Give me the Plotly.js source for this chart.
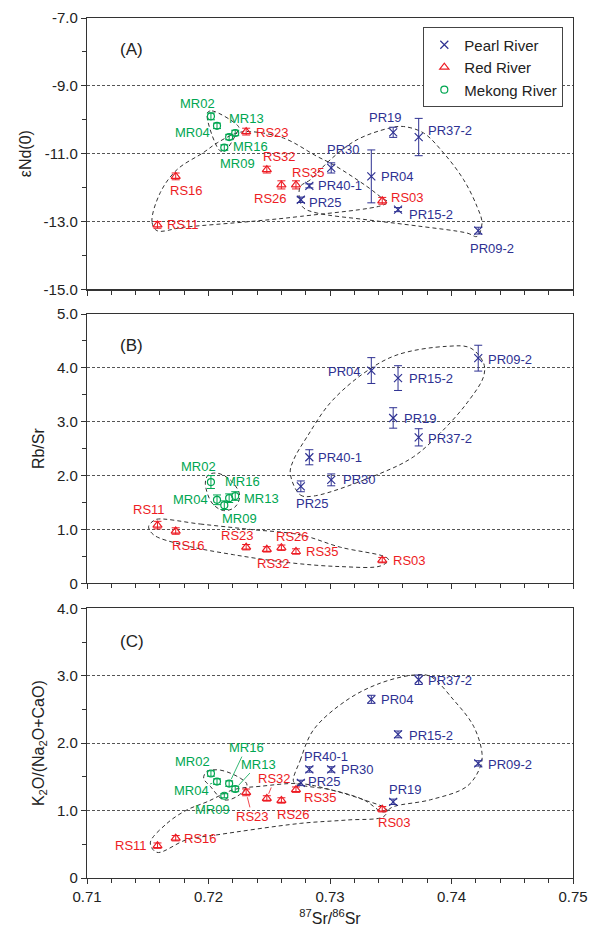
<!DOCTYPE html>
<html><head><meta charset="utf-8">
<script src="https://cdn.plot.ly/plotly-3.0.1.min.js"></script>
<style>html,body{margin:0;padding:0;background:#fff}#chart{width:592px;height:932px}</style>
</head><body><div id="chart"></div>
<script>
// ---------------- DATA ----------------
// Pearl River
const prNames   = ['PR25','PR40-1','PR30','PR04','PR19','PR37-2','PR15-2','PR09-2'];
const prSr      = [0.7276,0.7283,0.7301,0.7334,0.7352,0.7373,0.7356,0.7422];
const prNd      = [-12.36,-11.95,-11.42,-11.67,-10.37,-10.51,-12.65,-13.27];
const prNdErr   = [0.08,0.06,0.15,0.78,0.15,0.55,0.06,0.10];
const prRbSr    = [1.80,2.34,1.92,3.95,3.07,2.71,3.81,4.18];
const prRbSrErr = [0.10,0.14,0.11,0.24,0.19,0.16,0.23,0.24];
const prK       = [1.41,1.61,1.61,2.65,1.13,2.94,2.13,1.70];
const prKErr    = [0.04,0.04,0.04,0.06,0.04,0.07,0.05,0.04];
// Red River
const rsNames   = ['RS11','RS16','RS23','RS32','RS26','RS35','RS03'];
const rsSr      = [0.7158,0.7173,0.7231,0.7248,0.7260,0.7272,0.7343];
const rsNd      = [-13.10,-11.67,-10.35,-11.47,-11.92,-11.92,-12.39];
const rsNdErr   = [0.10,0.10,0.10,0.10,0.12,0.12,0.10];
const rsRbSr    = [1.08,0.97,0.67,0.63,0.66,0.59,0.43];
const rsRbSrErr = [0.07,0.06,0.05,0.05,0.05,0.05,0.05];
const rsK       = [0.48,0.59,1.27,1.18,1.15,1.31,1.02];
const rsKErr    = [0.04,0.04,0.05,0.04,0.04,0.04,0.04];
// Mekong River
const mrNames   = ['MR02','MR04','MR09','MR16','MR13'];
const mrSr      = [0.7202,0.7207,0.7213,0.7217,0.7222];
const mrNd      = [-9.90,-10.18,-10.82,-10.51,-10.39];
const mrNdErr   = [0.10,0.08,0.08,0.08,0.08];
const mrRbSr    = [1.88,1.55,1.45,1.58,1.62];
const mrRbSrErr = [0.12,0.09,0.08,0.08,0.08];
const mrK       = [1.55,1.43,1.22,1.40,1.32];
const mrKErr    = [0.04,0.04,0.03,0.04,0.04];

// Group envelopes (hand-drawn outlines), vertices in data units
const envA_mr_x = [0.7199,0.7203,0.7225,0.7224,0.7213,0.7209,0.7199];
const envA_mr_y = [-9.80,-9.74,-10.22,-10.33,-10.93,-10.90,-9.80];
const envA_rs_x = [0.71576,0.71535,0.71603,0.71741,0.71957,0.72072,0.72235,0.72344,0.72618,0.72893,0.73030,0.73305,0.73441,0.73474,0.73441,0.72756,0.72344,0.71795,0.71576];
const envA_rs_y = [-13.27,-13.01,-12.15,-11.47,-10.97,-10.68,-10.39,-10.35,-10.54,-11.08,-11.33,-11.97,-12.34,-12.41,-12.51,-12.85,-13.00,-13.17,-13.27];
const envA_pr_x = [0.72756,0.72750,0.72783,0.72893,0.73305,0.73716,0.74128,0.74210,0.74251,0.74210,0.74100,0.73935,0.73770,0.73606,0.73496,0.73222,0.73002,0.72838,0.72756];
const envA_pr_y = [-11.97,-12.36,-12.60,-12.75,-12.95,-13.13,-13.34,-13.44,-13.05,-12.56,-11.77,-10.98,-10.39,-10.20,-10.24,-10.59,-11.18,-11.77,-11.97];

const envB_mr_x = [0.72070,0.72179,0.72256,0.72220,0.72124,0.72029,0.71974,0.71998,0.72070];
const envB_mr_y = [2.045,1.92,1.64,1.42,1.35,1.49,1.86,2.01,2.045];
const envB_rs_x = [0.71576,0.71933,0.72344,0.72756,0.73085,0.73455,0.73482,0.73414,0.73085,0.72673,0.72207,0.71795,0.71548,0.71507,0.71535,0.71576];
const envB_rs_y = [1.19,1.10,1.00,0.90,0.67,0.49,0.43,0.32,0.31,0.38,0.53,0.71,0.90,1.05,1.14,1.19];
const envB_pr_x = [0.72673,0.72756,0.72865,0.73414,0.73688,0.73908,0.74128,0.74264,0.74264,0.74155,0.73963,0.73551,0.73277,0.73002,0.72811,0.72700,0.72673];
const envB_pr_y = [2.04,1.64,1.62,2.04,2.35,2.79,3.35,3.84,4.09,4.37,4.40,4.24,3.90,3.35,2.72,2.29,2.04];

const envC_mr_x = [0.71987,0.72097,0.72262,0.72317,0.72235,0.72124,0.72015,0.71960,0.71987];
const envC_mr_y = [1.58,1.60,1.48,1.38,1.21,1.16,1.36,1.48,1.58];
const envC_rs_x = [0.71521,0.71658,0.71823,0.71988,0.72207,0.72426,0.72756,0.73002,0.73277,0.73469,0.73441,0.73140,0.72756,0.72070,0.71823,0.71576,0.71521];
const envC_rs_y = [0.52,0.81,1.01,1.13,1.31,1.36,1.40,1.31,1.16,1.01,0.91,0.86,0.81,0.64,0.57,0.38,0.52];
const envC_pr_x = [0.72700,0.72756,0.72865,0.73140,0.73414,0.73688,0.73826,0.74018,0.74182,0.74251,0.74237,0.74128,0.73826,0.73524,0.73440,0.73277,0.73002,0.72756,0.72700];
const envC_pr_y = [1.43,1.75,2.20,2.64,2.89,3.01,2.99,2.64,2.25,1.85,1.65,1.36,1.16,1.06,0.98,1.16,1.31,1.38,1.43];

// Axis ticks
const xTicks = [0.71,0.72,0.73,0.74,0.75];
const xTickText = ['0.71','0.72','0.73','0.74','0.75'];
const xMinor = [0.712,0.714,0.716,0.718,0.722,0.724,0.726,0.728,0.732,0.734,0.736,0.738,0.742,0.744,0.746,0.748];
const yATicks = [-15,-13,-11,-9,-7];
const yATickText = ['-15.0','-13.0','-11.0','-9.0','-7.0'];
const yAMinor = [-14,-12,-10,-8];
const yBTicks = [0,1,2,3,4,5];
const yBTickText = ['0','1.0','2.0','3.0','4.0','5.0'];
const yBMinor = [0.5,1.5,2.5,3.5,4.5];
const yCTicks = [0,1,2,3,4];
const yCTickText = ['0','1.0','2.0','3.0','4.0'];
const yCMinor = [0.5,1.5,2.5,3.5];

// ---------------- LABEL OFFSETS (px, dx right, dy down) ----------------
const prOffA = [[25,3],[31,0],[12,-18],[26,0],[-8,-15],[31,-7],[33,5],[14,18]];
const rsOffA = [[26,0],[11,14],[26,1],[13,-13],[-11,14],[13,-12],[25,-3]];
const mrOffA = [[-13,-13],[-25,7],[13,16],[21,9],[11,-14]];
const prOffB = [[12,17],[31,0],[28,0],[-27,1],[27,1],[31,1],[33,0],[32,1]];
const rsOffB = [[-8,-16],[13,14],[-9,-12],[7,14],[11,-11],[27,0],[27,0]];
const mrOffB = [[-12,-16],[-27,0],[15,13],[13,-17],[26,2]];
const prOffC = [[24,-1],[17,-13],[26,0],[26,0],[12,-12],[31,1],[33,1],[32,1]];
const rsOffC = [[-26,0],[25,0],[6,24],[8,-20],[12,14],[25,8],[12,13]];
const mrOffC = [[-18,-12],[-26,9],[-12,14],[17,-36],[23,-25]];
const leadersC = ['MR16','MR13','MR04','RS23','RS32'];

// ---------------- STYLE ----------------
const FONT = 'Liberation Sans, Arial, sans-serif';
const BLUE = '#2e3192', RED = '#ed1c24', GREEN = '#00a651';

function envTrace(x, y, xa, ya) {
  return {x, y, xaxis: xa, yaxis: ya, mode: 'lines', type: 'scatter',
    line: {color: '#333', width: 1, dash: '4px,3px', shape: 'spline', smoothing: 1},
    showlegend: false, hoverinfo: 'skip'};
}
function ptTrace(name, x, y, err, xa, ya, symbol, color, size, showlegend) {
  return {x, y, xaxis: xa, yaxis: ya, mode: 'markers', type: 'scatter', name,
    marker: {symbol, color, size, line: {color, width: 1.2}},
    error_y: {type: 'data', array: err, visible: true, color, thickness: 1, width: 4},
    showlegend, legendrank: 1};
}
function labels(names, xs, ys, offs, color, xref, yref, leaders) {
  return names.map((n, i) => {
    const dx = offs[i][0], dy = offs[i][1];
    const lead = !!(leaders && leaders.includes(n));
    const a = {x: xs[i], y: ys[i], xref, yref, text: n,
      font: {family: FONT, size: 13, color}, showarrow: lead};
    if (lead) Object.assign(a, {ax: dx, ay: dy, arrowhead: 0, arrowwidth: 0.8, arrowcolor: color, standoff: 5});
    else { a.xshift = dx; a.yshift = -dy; }
    return a;
  });
}

const traces = [
  envTrace(envA_mr_x, envA_mr_y, 'x', 'y'),
  envTrace(envA_rs_x, envA_rs_y, 'x', 'y'),
  envTrace(envA_pr_x, envA_pr_y, 'x', 'y'),
  envTrace(envB_mr_x, envB_mr_y, 'x2', 'y2'),
  envTrace(envB_rs_x, envB_rs_y, 'x2', 'y2'),
  envTrace(envB_pr_x, envB_pr_y, 'x2', 'y2'),
  envTrace(envC_mr_x, envC_mr_y, 'x3', 'y3'),
  envTrace(envC_rs_x, envC_rs_y, 'x3', 'y3'),
  envTrace(envC_pr_x, envC_pr_y, 'x3', 'y3'),
  ptTrace('Pearl River', prSr, prNd, prNdErr, 'x', 'y', 'x-thin-open', BLUE, 8, true),
  ptTrace('Red River', rsSr, rsNd, rsNdErr, 'x', 'y', 'triangle-up-open', RED, 8, true),
  ptTrace('Mekong River', mrSr, mrNd, mrNdErr, 'x', 'y', 'circle-open', GREEN, 7, true),
  ptTrace('Pearl River', prSr, prRbSr, prRbSrErr, 'x2', 'y2', 'x-thin-open', BLUE, 8, false),
  ptTrace('Red River', rsSr, rsRbSr, rsRbSrErr, 'x2', 'y2', 'triangle-up-open', RED, 8, false),
  ptTrace('Mekong River', mrSr, mrRbSr, mrRbSrErr, 'x2', 'y2', 'circle-open', GREEN, 7, false),
  ptTrace('Pearl River', prSr, prK, prKErr, 'x3', 'y3', 'x-thin-open', BLUE, 8, false),
  ptTrace('Red River', rsSr, rsK, rsKErr, 'x3', 'y3', 'triangle-up-open', RED, 8, false),
  ptTrace('Mekong River', mrSr, mrK, mrKErr, 'x3', 'y3', 'circle-open', GREEN, 7, false)
];

function xAxis(anchor, showLabels) {
  return {anchor, domain: [0, 1], range: [0.71, 0.75], tickmode: 'array',
    tickvals: xTicks, ticktext: xTickText, showticklabels: showLabels,
    ticks: 'outside', ticklen: 5, tickwidth: 1, tickcolor: '#333',
    minor: {tickmode: 'array', tickvals: xMinor, ticks: 'outside', ticklen: 4, tickwidth: 1, tickcolor: '#333', showgrid: false},
    showline: true, mirror: true, linecolor: '#333', linewidth: 1.2,
    showgrid: false, zeroline: false,
    tickfont: {family: FONT, size: 15, color: '#222'}};
}
function yAxis(domain, range, tv, tt, minor, title) {
  return {domain, range, tickmode: 'array', tickvals: tv, ticktext: tt,
    ticks: 'outside', ticklen: 5, tickwidth: 1, tickcolor: '#333',
    minor: {tickmode: 'array', tickvals: minor, ticks: 'outside', ticklen: 4, tickwidth: 1, tickcolor: '#333', showgrid: false},
    showline: true, mirror: true, linecolor: '#333', linewidth: 1.2,
    showgrid: true, gridcolor: '#555', gridwidth: 1, griddash: '3px,2px', zeroline: false,
    tickfont: {family: FONT, size: 15, color: '#222'},
    title: {text: title, font: {family: FONT, size: 16, color: '#222'}, standoff: 8}};
}

const xa3 = xAxis('y3', true);
xa3.title = {text: '<sup>87</sup>Sr/<sup>86</sup>Sr', font: {family: FONT, size: 16, color: '#222'}, standoff: 8};

const panelLabel = (t, xr, yr, yv) => ({text: t, xref: xr, yref: yr, x: 0.063, y: yv,
  showarrow: false, font: {family: FONT, size: 17, color: '#222'}});

const annotations = [].concat(
  labels(prNames, prSr, prNd, prOffA, BLUE, 'x', 'y'),
  labels(rsNames, rsSr, rsNd, rsOffA, RED, 'x', 'y'),
  labels(mrNames, mrSr, mrNd, mrOffA, GREEN, 'x', 'y'),
  labels(prNames, prSr, prRbSr, prOffB, BLUE, 'x2', 'y2'),
  labels(rsNames, rsSr, rsRbSr, rsOffB, RED, 'x2', 'y2'),
  labels(mrNames, mrSr, mrRbSr, mrOffB, GREEN, 'x2', 'y2'),
  labels(prNames, prSr, prK, prOffC, BLUE, 'x3', 'y3', leadersC),
  labels(rsNames, rsSr, rsK, rsOffC, RED, 'x3', 'y3', leadersC),
  labels(mrNames, mrSr, mrK, mrOffC, GREEN, 'x3', 'y3', leadersC),
  [panelLabel('(A)', 'x domain', 'y domain', 0.925),
   panelLabel('(B)', 'x2 domain', 'y2 domain', 0.926),
   panelLabel('(C)', 'x3 domain', 'y3 domain', 0.92)]
);

const layout = {
  width: 592, height: 932,
  margin: {l: 87, r: 19, t: 18, b: 54},
  paper_bgcolor: '#fff', plot_bgcolor: '#fff',
  font: {family: FONT, color: '#222'},
  xaxis: xAxis('y', false),
  xaxis2: xAxis('y2', false),
  xaxis3: xa3,
  yaxis: yAxis([0.6845, 1], [-15, -7], yATicks, yATickText, yAMinor, 'εNd(0)'),
  yaxis2: yAxis([0.3427, 0.6558], [0, 5], yBTicks, yBTickText, yBMinor, 'Rb/Sr'),
  yaxis3: yAxis([0, 0.3136], [0, 4], yCTicks, yCTickText, yCMinor, 'K<sub>2</sub>O/(Na<sub>2</sub>O+CaO)'),
  showlegend: true,
  legend: {x: 0.692, y: 0.989, xanchor: 'left', yanchor: 'top',
    bgcolor: '#fff', bordercolor: '#444', borderwidth: 1,
    font: {family: FONT, size: 15, color: '#222'}, itemwidth: 30, tracegroupgap: 0},
  annotations
};

Plotly.newPlot('chart', traces, layout, {displayModeBar: false, staticPlot: true});
</script>
</body></html>
